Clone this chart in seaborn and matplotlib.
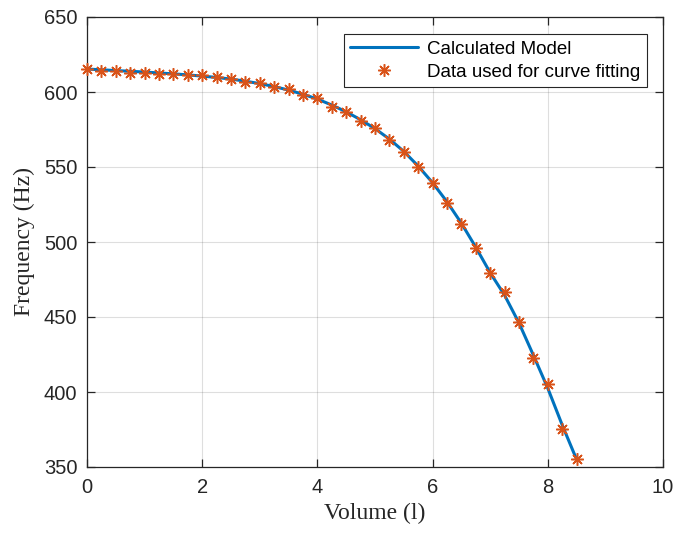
import matplotlib
matplotlib.use("Agg")
import matplotlib.pyplot as plt
import seaborn as sns
import pandas as pd
import numpy as np

# Measured data (used for curve fitting)
data_volume = [0.0, 0.25, 0.5, 0.75, 1.0, 1.25, 1.5, 1.75, 2.0, 2.25, 2.5, 2.75,
               3.0, 3.25, 3.5, 3.75, 4.0, 4.25, 4.5, 4.75, 5.0, 5.25, 5.5, 5.75,
               6.0, 6.25, 6.5, 6.75, 7.0, 7.25, 7.5, 7.75, 8.0, 8.25, 8.5]
data_freq = [615.2, 614.3, 613.9, 612.9, 612.9, 612.1, 612.1, 611.2, 611.2, 610.3,
             609.0, 606.8, 606.1, 603.2, 601.9, 597.9, 595.9, 589.9, 586.8, 580.8,
             575.9, 568.0, 560.0, 550.0, 539.1, 526.0, 512.3, 496.1, 479.5, 467.0,
             446.5, 422.5, 405.2, 375.5, 355.5]

# Calculated model curve
model_volume = [0.0, 0.25, 0.5, 0.75, 1.0, 1.25, 1.5, 1.75, 2.0, 2.25, 2.5, 2.75,
                3.0, 3.25, 3.5, 3.75, 4.0, 4.25, 4.5, 4.75, 5.0, 5.25, 5.5, 5.75,
                6.0, 6.25, 6.5, 6.75, 7.0, 7.25, 7.5, 7.75, 8.0, 8.25, 8.5]
model_freq = [615.3, 614.8, 614.3, 613.8, 613.3, 612.7, 612.1, 611.4, 610.6, 609.7,
              608.6, 607.2, 605.6, 603.6, 601.3, 598.5, 595.3, 591.3, 586.8, 581.5,
              575.6, 568.6, 560.4, 550.6, 539.5, 526.8, 512.5, 496.5, 479.5, 464.5,
              446.0, 424.5, 402.5, 378.0, 355.0]

x_ticks = [0, 2, 4, 6, 8, 10]
y_ticks = [350, 400, 450, 500, 550, 600, 650]

sns.set_theme(style="white")
plt.rcParams['font.family'] = ['Liberation Sans', 'DejaVu Sans']

dark = "#262626"
fig = plt.figure(figsize=(6.75, 5.33), dpi=100)
ax = fig.add_axes([87/675, 1-467/533, (663-87)/675, (467-17)/533])

model_df = pd.DataFrame({"v": model_volume, "f": model_freq})
data_df = pd.DataFrame({"v": data_volume, "f": data_freq})

sns.lineplot(data=model_df, x="v", y="f", ax=ax, color="#0072BD", linewidth=2.2,
             label="Calculated Model", zorder=3)
ax.plot(data_df["v"], data_df["f"], linestyle="none", marker=(8, 2, 0),
        markersize=9, markeredgewidth=1.1, color="#D95319",
        label="Data used for curve fitting", zorder=4, clip_on=False)

ax.set_xlim(0, 10)
ax.set_ylim(350, 650)
ax.set_xticks(x_ticks)
ax.set_yticks(y_ticks)
ax.set_xticklabels([str(t) for t in x_ticks])
ax.set_yticklabels([str(t) for t in y_ticks])
ax.grid(True, color="#262626", alpha=0.15, linewidth=0.8)

for s in ax.spines.values():
    s.set_visible(True)
    s.set_color(dark)
    s.set_linewidth(0.9)

ax.tick_params(direction="in", length=6, width=0.9, color=dark, labelcolor=dark,
               labelsize=14.5, top=True, right=True, left=True, bottom=True,
               labeltop=False, labelright=False)
ax.tick_params(axis="x", pad=8)
ax.tick_params(axis="y", pad=7)

ax.set_xlabel("Volume (l)", family=["Liberation Serif", "DejaVu Serif"],
              fontsize=17, color=dark, labelpad=4)
ax.set_ylabel("Frequency (Hz)", family=["Liberation Serif", "DejaVu Serif"],
              fontsize=17, color=dark, labelpad=6)

leg = ax.legend(loc="upper right", bbox_to_anchor=(0.972, 0.962), borderaxespad=0,
                fontsize=13.5, frameon=True, fancybox=False, framealpha=1,
                edgecolor=dark, handlelength=3.6, handletextpad=0.5,
                borderpad=0.35, labelspacing=0.3)
leg.get_frame().set_linewidth(0.8)
for t in leg.get_texts():
    t.set_color("black")

fig.savefig("out.png", dpi=100)
